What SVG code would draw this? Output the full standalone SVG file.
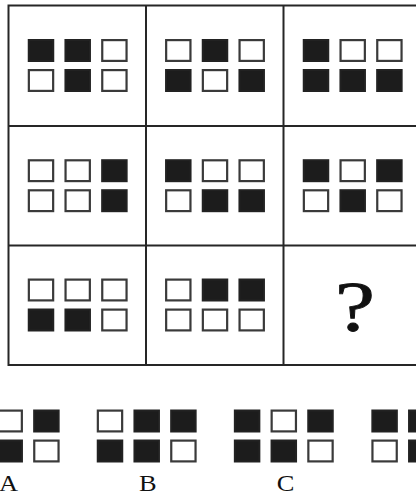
<svg xmlns="http://www.w3.org/2000/svg" xmlns:xlink="http://www.w3.org/1999/xlink" width="416" height="497" viewBox="0 0 416 497">
<style>
.grid{fill:none;stroke:#262626;stroke-width:2}
.w{fill:#ffffff;stroke:#3a3a3a;stroke-width:2.2}
.b{fill:#1c1c1c;stroke:#222222;stroke-width:2}
.lbl{font-family:"Liberation Serif","Times New Roman",serif;font-size:23px;fill:#111;text-anchor:middle}
.q{font-family:"Liberation Serif","Times New Roman",serif;font-size:72px;fill:#111;text-anchor:middle;stroke:#111;stroke-width:0.8}
</style>
<defs>
<rect id="W" class="w" x="-12.15" y="-10.4" width="24.3" height="20.8"/>
<rect id="B" class="b" x="-12.25" y="-10.5" width="24.5" height="21"/>
</defs>
<rect width="416" height="497" fill="#ffffff"/>
<g id="connectors">
<rect class="grid" x="8.5" y="5.5" width="412.5" height="359.5"/>
<line class="grid" x1="146" y1="5.5" x2="146" y2="365"/>
<line class="grid" x1="283.5" y1="5.5" x2="283.5" y2="365"/>
<line class="grid" x1="8.5" y1="126" x2="421" y2="126"/>
<line class="grid" x1="8.5" y1="245.5" x2="421" y2="245.5"/>
</g>
<g id="cell-r1c1">
<use xlink:href="#B" x="41" y="50.5"/><use xlink:href="#B" x="77.7" y="50.5"/><use xlink:href="#W" x="114.4" y="50.5"/>
<use xlink:href="#W" x="41" y="80.5"/><use xlink:href="#B" x="77.7" y="80.5"/><use xlink:href="#W" x="114.4" y="80.5"/>
</g>
<g id="cell-r1c2">
<use xlink:href="#W" x="178.3" y="50.5"/><use xlink:href="#B" x="215" y="50.5"/><use xlink:href="#W" x="251.7" y="50.5"/>
<use xlink:href="#B" x="178.3" y="80.5"/><use xlink:href="#W" x="215" y="80.5"/><use xlink:href="#B" x="251.7" y="80.5"/>
</g>
<g id="cell-r1c3">
<use xlink:href="#B" x="316" y="50.5"/><use xlink:href="#W" x="352.7" y="50.5"/><use xlink:href="#W" x="389.4" y="50.5"/>
<use xlink:href="#B" x="316" y="80.5"/><use xlink:href="#B" x="352.7" y="80.5"/><use xlink:href="#B" x="389.4" y="80.5"/>
</g>
<g id="cell-r2c1">
<use xlink:href="#W" x="41" y="170.7"/><use xlink:href="#W" x="77.7" y="170.7"/><use xlink:href="#B" x="114.4" y="170.7"/>
<use xlink:href="#W" x="41" y="200.7"/><use xlink:href="#W" x="77.7" y="200.7"/><use xlink:href="#B" x="114.4" y="200.7"/>
</g>
<g id="cell-r2c2">
<use xlink:href="#B" x="178.3" y="170.7"/><use xlink:href="#W" x="215" y="170.7"/><use xlink:href="#W" x="251.7" y="170.7"/>
<use xlink:href="#W" x="178.3" y="200.7"/><use xlink:href="#B" x="215" y="200.7"/><use xlink:href="#B" x="251.7" y="200.7"/>
</g>
<g id="cell-r2c3">
<use xlink:href="#B" x="316" y="170.7"/><use xlink:href="#W" x="352.7" y="170.7"/><use xlink:href="#B" x="389.4" y="170.7"/>
<use xlink:href="#W" x="316" y="200.7"/><use xlink:href="#B" x="352.7" y="200.7"/><use xlink:href="#W" x="389.4" y="200.7"/>
</g>
<g id="cell-r3c1">
<use xlink:href="#W" x="41" y="290"/><use xlink:href="#W" x="77.7" y="290"/><use xlink:href="#W" x="114.4" y="290"/>
<use xlink:href="#B" x="41" y="320"/><use xlink:href="#B" x="77.7" y="320"/><use xlink:href="#W" x="114.4" y="320"/>
</g>
<g id="cell-r3c2">
<use xlink:href="#W" x="178.3" y="290"/><use xlink:href="#B" x="215" y="290"/><use xlink:href="#B" x="251.7" y="290"/>
<use xlink:href="#W" x="178.3" y="320"/><use xlink:href="#W" x="215" y="320"/><use xlink:href="#W" x="251.7" y="320"/>
</g>
<g id="cell-r3c3">
<text class="q" transform="translate(355,331) scale(1.25,1)">?</text>
</g>
<g id="option-A">
<use xlink:href="#W" x="9.7" y="421"/><use xlink:href="#B" x="46.4" y="421"/>
<use xlink:href="#B" x="9.7" y="451"/><use xlink:href="#W" x="46.4" y="451"/>
<text class="lbl" transform="translate(8.5,490.5) scale(1.15,1)">A</text>
</g>
<g id="option-B">
<use xlink:href="#W" x="110" y="421"/><use xlink:href="#B" x="146.7" y="421"/><use xlink:href="#B" x="183.4" y="421"/>
<use xlink:href="#B" x="110" y="451"/><use xlink:href="#B" x="146.7" y="451"/><use xlink:href="#W" x="183.4" y="451"/>
<text class="lbl" transform="translate(147.7,490.5) scale(1.15,1)">B</text>
</g>
<g id="option-C">
<use xlink:href="#B" x="247.1" y="421"/><use xlink:href="#W" x="283.8" y="421"/><use xlink:href="#B" x="320.5" y="421"/>
<use xlink:href="#B" x="247.1" y="451"/><use xlink:href="#B" x="283.8" y="451"/><use xlink:href="#W" x="320.5" y="451"/>
<text class="lbl" transform="translate(285.5,490.5) scale(1.15,1)">C</text>
</g>
<g id="option-D">
<use xlink:href="#B" x="384.6" y="421"/><use xlink:href="#B" x="421.3" y="421"/>
<use xlink:href="#W" x="384.6" y="451"/><use xlink:href="#B" x="421.3" y="451"/>
</g>
</svg>
